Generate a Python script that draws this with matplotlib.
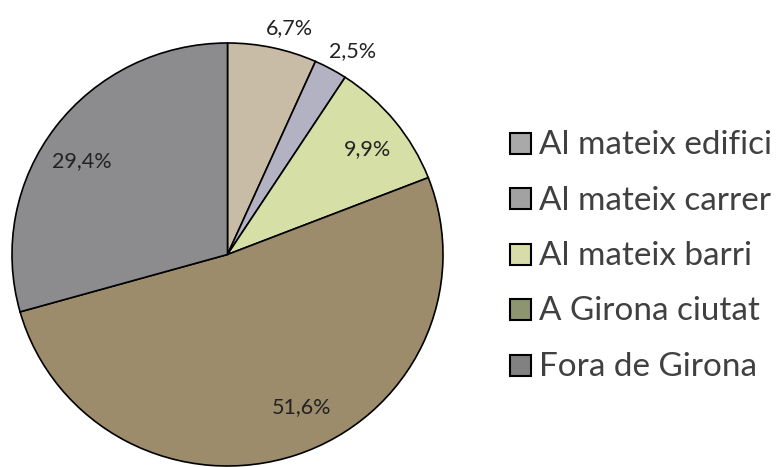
import numpy as np
import matplotlib.pyplot as plt
from matplotlib.patches import Rectangle

# Dades del gràfic
categories = ['Al mateix edifici', 'Al mateix carrer', 'Al mateix barri',
              'A Girona ciutat', 'Fora de Girona']
valors = [6.7, 2.5, 9.9, 51.6, 29.4]

# Colors dels sectors i de la llegenda (a l'original no coincideixen)
colors_pie = ['#c8bca6', '#b2b2c2', '#d6e0a6', '#9c8c6c', '#8c8c8e']
colors_leg = ['#a9a9a9', '#a2a2a2', '#d8dca8', '#8c9470', '#818181']

# Distància i desplaçament angular de cada etiqueta
dist_etiq = [1.11, 1.125, 0.82, 0.80, 0.81]
gir_etiq = [-3, -2.5, -1.5, 7, 4]

plt.rcParams['font.family'] = ['Lato', 'DejaVu Sans']

W, H = 776, 467
fig = plt.figure(figsize=(W / 100, H / 100), dpi=100)
# el cercle original és lleugerament aixafat (431 x 423 px)
ax = fig.add_axes([12 / W, 1 / H, 431 / W, 423 / H])

wedges, _ = ax.pie(valors, colors=colors_pie, startangle=90, counterclock=False,
                   radius=1, wedgeprops=dict(edgecolor='black', linewidth=1.2))

# Etiquetes de percentatge amb coma decimal
total = sum(valors)
inici = 90.0
for v, d, g in zip(valors, dist_etiq, gir_etiq):
    mig = inici - v / total * 360 / 2
    inici -= v / total * 360
    ang = np.deg2rad(mig + g)
    ax.text(d * np.cos(ang), d * np.sin(ang), f'{v:.1f}%'.replace('.', ','),
            ha='center', va='center', fontsize=15.5, color='#222222')

ax.set_xlim(-1, 1)
ax.set_ylim(-1, 1)
ax.set_aspect('auto')
ax.axis('off')

# Llegenda dibuixada a mà (posicions en píxels des de dalt)
x_quad, costat = 510, 21
x_text, x_fi = 539, 772
y0, pas = 143, 55.5
textos = []
for i, (cat, c) in enumerate(zip(categories, colors_leg)):
    yc = y0 + i * pas
    fig.add_artist(Rectangle((x_quad / W, 1 - (yc + costat / 2) / H),
                             costat / W, costat / H, transform=fig.transFigure,
                             facecolor=c, edgecolor='black', linewidth=1.5))
    textos.append(fig.text(x_text / W, 1 - (yc + 11) / H, cat, ha='left',
                           va='baseline', fontsize=22, color='#404040'))

# ajusta la mida perquè el text més ample acabi on a l'original
rend = fig.canvas.get_renderer()
ample = max(t.get_window_extent(rend).width for t in textos)
mida = min(22 * (x_fi - x_text) / ample, 24)
for t in textos:
    t.set_fontsize(mida)

fig.savefig('out.png', dpi=100, facecolor='white')
